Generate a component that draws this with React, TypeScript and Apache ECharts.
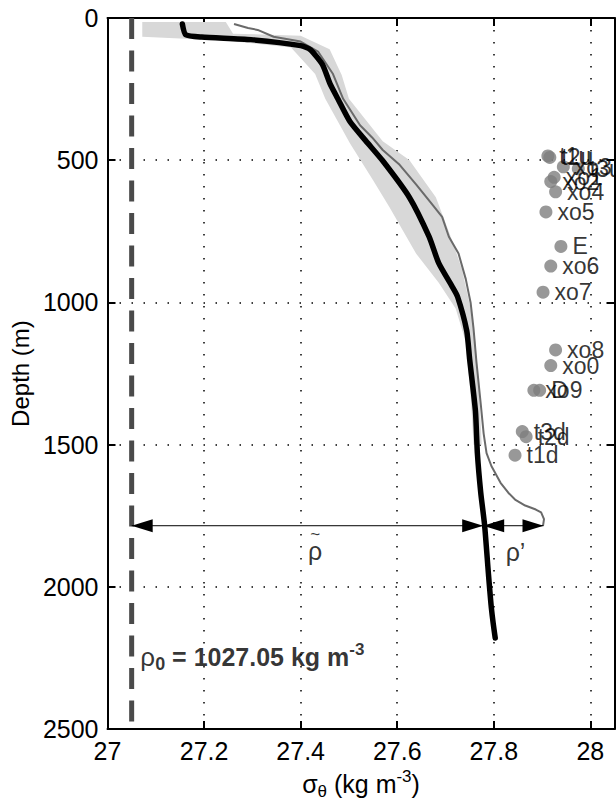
import React, { useEffect, useRef } from "react";
import * as echarts from "echarts";

// ---- axes ----
const xMin = 27;
const xMax = 28.05;
const xStep = 0.2;
const yMin = 0;
const yMax = 2500;
const yStep = 500;

// ---- reference density rho0 (sigma units) ----
const rho0Sigma = 27.05;
const rho0Text = "1027.05";

// ---- mean profile (thick black): [sigma, depth] ----
const meanProfile: [number, number][] = [
  [27.155, 21], [27.162, 59], [27.195, 67], [27.297, 76], [27.4, 97],
  [27.42, 111], [27.445, 163], [27.461, 232], [27.477, 284], [27.502, 364],
  [27.535, 432], [27.57, 502], [27.625, 630], [27.666, 769], [27.686, 862],
  [27.713, 942], [27.725, 980], [27.744, 1100], [27.75, 1200], [27.762, 1382],
  [27.766, 1530], [27.773, 1669], [27.781, 1783], [27.789, 1956], [27.795, 2074],
  [27.803, 2180],
];

// ---- single profile (thin grey): [sigma, depth] ----
const singleProfile: [number, number][] = [
  [27.262, 21], [27.291, 35], [27.311, 42], [27.344, 66], [27.4, 83],
  [27.436, 118], [27.467, 197], [27.488, 284], [27.523, 377], [27.548, 420],
  [27.57, 464], [27.605, 516], [27.639, 585], [27.672, 654], [27.693, 699],
  [27.707, 769], [27.727, 828], [27.742, 918], [27.752, 1001], [27.758, 1091],
  [27.764, 1208], [27.773, 1357], [27.779, 1461], [27.785, 1530], [27.795, 1575],
  [27.814, 1634], [27.83, 1669], [27.844, 1693], [27.865, 1714], [27.887, 1728],
  [27.898, 1738], [27.904, 1762], [27.902, 1785],
];

// ---- envelope (light grey band): left and right edges [sigma, depth] ----
const bandLeft: [number, number][] = [
  [27.072, 14], [27.072, 66], [27.25, 80], [27.38, 104], [27.43, 197],
  [27.451, 284], [27.502, 440], [27.55, 570], [27.584, 665], [27.639, 828],
  [27.686, 931], [27.721, 1021], [27.742, 1139], [27.752, 1323], [27.758, 1500],
];
const bandRight: [number, number][] = [
  [27.245, 14], [27.26, 55], [27.4, 62], [27.46, 110], [27.485, 200],
  [27.5, 284], [27.57, 433], [27.625, 499], [27.68, 630], [27.713, 779],
  [27.734, 883], [27.752, 1021], [27.762, 1139], [27.77, 1323], [27.775, 1500],
];

// ---- arrows at the decomposition depth ----
const arrowDepth = 1785;
const arrowStarts = [27.05, 27.778];
const arrowEnds = [27.778, 27.903];

// ---- arrow labels ----
const arrowLabelNames = ["{t|~}\n{r|ρ}", "{r|ρ’}"];
const arrowLabelSigma = [27.43, 27.845];
const arrowLabelDepth = [1858, 1876];

// ---- station markers ----
const stationNames = [
  "t1u", "t2u", "xo3", "t3u", "xo1", "xo2", "xo4", "xo5", "E", "xo6",
  "xo7", "xo8", "xo0", "xo9", "D", "t3d", "t2d", "t1d",
];
const stationSigma = [
  27.912, 27.916, 27.944, 27.975, 27.925, 27.918, 27.928, 27.908, 27.939, 27.918,
  27.902, 27.928, 27.918, 27.883, 27.895, 27.859, 27.867, 27.844,
];
const stationDepth = [
  485, 490, 523, 530, 560, 575, 611, 682, 803, 872,
  964, 1167, 1222, 1309, 1309, 1454, 1472, 1537,
];

const FONT = "Liberation Sans, Arial, Helvetica, sans-serif";

export default function App() {
  const ref = useRef<HTMLDivElement>(null);

  useEffect(() => {
    if (!ref.current) return;
    const chart = echarts.init(ref.current, null, { renderer: "svg" });

    const axisLineStyle = { color: "#000", width: 2 };
    const tickStyle = { color: "#000", width: 2 };
    const dotted = { color: "#000", width: 1.5, type: [1.5, 10.5] as number[] };

    const option: any = {
      animation: false,
      backgroundColor: "#fff",
      grid: { left: 104, right: 1.5, top: 18, bottom: 67.5, containLabel: false },
      xAxis: [
        {
          type: "value",
          min: xMin,
          max: xMax,
          interval: xStep,
          position: "bottom",
          axisLine: { show: true, onZero: false, lineStyle: axisLineStyle },
          axisTick: { show: true, inside: true, length: 8, lineStyle: tickStyle },
          axisLabel: {
            color: "#000",
            fontFamily: FONT,
            fontSize: 25,
            margin: 9,
            showMaxLabel: false,
            formatter: (v: number) => String(+v.toFixed(2)),
          },
          splitLine: { show: true, lineStyle: dotted },
          name: "{a|σ}{s|θ}{a| (kg m}{p|-3}{a|)}",
          nameLocation: "middle",
          nameGap: 34,
          nameTextStyle: {
            rich: {
              a: { fontSize: 25, fontFamily: FONT, color: "#000", lineHeight: 32 },
              s: { fontSize: 17, fontFamily: FONT, color: "#000", lineHeight: 14, verticalAlign: "bottom" },
              p: { fontSize: 17, fontFamily: FONT, color: "#000", lineHeight: 18, verticalAlign: "top" },
            },
          },
        },
        {
          type: "value",
          min: xMin,
          max: xMax,
          interval: xStep,
          position: "top",
          axisLine: { show: true, onZero: false, lineStyle: axisLineStyle },
          axisTick: { show: true, inside: true, length: 8, lineStyle: tickStyle },
          axisLabel: { show: false },
          splitLine: { show: false },
        },
      ],
      yAxis: [
        {
          type: "value",
          inverse: true,
          min: yMin,
          max: yMax,
          interval: yStep,
          position: "left",
          axisLine: { show: true, onZero: false, lineStyle: axisLineStyle },
          axisTick: { show: true, inside: true, length: 8, lineStyle: tickStyle },
          axisLabel: {
            color: "#000",
            fontFamily: FONT,
            fontSize: 25,
            margin: 9,
            formatter: (v: number) => String(v),
          },
          splitLine: { show: true, lineStyle: dotted },
          name: "Depth (m)",
          nameLocation: "middle",
          nameGap: 64,
          nameRotate: 90,
          nameTextStyle: { color: "#000", fontFamily: FONT, fontSize: 24 },
        },
        {
          type: "value",
          inverse: true,
          min: yMin,
          max: yMax,
          interval: yStep,
          position: "right",
          axisLine: { show: true, onZero: false, lineStyle: axisLineStyle },
          axisTick: { show: true, inside: true, length: 8, lineStyle: tickStyle },
          axisLabel: { show: false },
          splitLine: { show: false },
        },
      ],
      series: [
        {
          name: "envelope",
          type: "custom",
          xAxisIndex: 0,
          yAxisIndex: 0,
          silent: true,
          z: 1,
          data: [[bandLeft[0][0], bandLeft[0][1]]],
          encode: { x: 0, y: 1 },
          renderItem: (_params: any, api: any) => {
            const pts = bandLeft
              .concat(bandRight.slice().reverse())
              .map((p) => api.coord(p));
            return {
              type: "polygon",
              shape: { points: pts },
              style: { fill: "#d8d8d8", stroke: "none" },
            };
          },
        },
        {
          name: "rho0",
          type: "line",
          xAxisIndex: 0,
          yAxisIndex: 0,
          z: 2,
          showSymbol: false,
          silent: true,
          data: [
            [rho0Sigma, yMin],
            [rho0Sigma, yMax],
          ],
          lineStyle: { color: "#4a4a4a", width: 5, type: [21, 11.5] },
        },
        {
          name: "single",
          type: "line",
          xAxisIndex: 0,
          yAxisIndex: 0,
          z: 3,
          showSymbol: false,
          silent: true,
          data: singleProfile,
          lineStyle: { color: "#6a6a6a", width: 2 },
        },
        {
          name: "mean",
          type: "line",
          xAxisIndex: 0,
          yAxisIndex: 0,
          z: 4,
          showSymbol: false,
          silent: true,
          smooth: 0.2,
          data: meanProfile,
          lineStyle: { color: "#000", width: 5.5, cap: "round", join: "round" },
        },
        {
          name: "arrows",
          type: "custom",
          xAxisIndex: 0,
          yAxisIndex: 0,
          z: 5,
          silent: true,
          data: arrowStarts.map((s, i) => [s, arrowEnds[i], arrowDepth]),
          encode: { x: [0, 1], y: 2 },
          renderItem: (_params: any, api: any) => {
            const a = api.coord([api.value(0), api.value(2)]);
            const b = api.coord([api.value(1), api.value(2)]);
            const L = 21;
            const H = 6.5;
            return {
              type: "group",
              children: [
                {
                  type: "line",
                  shape: { x1: a[0], y1: a[1], x2: b[0], y2: b[1] },
                  style: { stroke: "#000", lineWidth: 1 },
                },
                {
                  type: "polygon",
                  shape: { points: [[a[0], a[1]], [a[0] + L, a[1] - H], [a[0] + L, a[1] + H]] },
                  style: { fill: "#000" },
                },
                {
                  type: "polygon",
                  shape: { points: [[b[0], b[1]], [b[0] - L, b[1] - H], [b[0] - L, b[1] + H]] },
                  style: { fill: "#000" },
                },
              ],
            };
          },
        },
        {
          name: "arrowLabels",
          type: "scatter",
          xAxisIndex: 0,
          yAxisIndex: 0,
          z: 6,
          symbolSize: 0,
          silent: true,
          data: arrowLabelNames.map((n, i) => ({
            name: n,
            value: [arrowLabelSigma[i], arrowLabelDepth[i]],
          })),
          label: {
            show: true,
            position: "inside",
            align: "center",
            formatter: "{b}",
            rich: {
              t: { fontSize: 17, fontFamily: FONT, color: "#000", lineHeight: 9, align: "center" },
              r: { fontSize: 25, fontFamily: FONT, color: "#000", lineHeight: 24, align: "center" },
            },
          },
        },
        {
          name: "rho0Label",
          type: "scatter",
          xAxisIndex: 0,
          yAxisIndex: 0,
          z: 6,
          symbolSize: 0,
          silent: true,
          data: [{ name: "rho0", value: [27.068, 2248] }],
          label: {
            show: true,
            position: "right",
            distance: 0,
            formatter: "{r|ρ}{s|0}{b| = " + rho0Text + " kg m}{p|-3}",
            rich: {
              r: { fontSize: 26, fontFamily: FONT, color: "#000", lineHeight: 32 },
              s: { fontSize: 18, fontFamily: FONT, fontWeight: "bold", color: "#000", lineHeight: 16, verticalAlign: "bottom" },
              b: { fontSize: 25, fontFamily: FONT, fontWeight: "bold", color: "#000", lineHeight: 32 },
              p: { fontSize: 17, fontFamily: FONT, fontWeight: "bold", color: "#000", lineHeight: 20, verticalAlign: "top" },
            },
          },
        },
        {
          name: "stations",
          type: "scatter",
          xAxisIndex: 0,
          yAxisIndex: 0,
          z: 7,
          symbol: "circle",
          symbolSize: 13,
          silent: true,
          itemStyle: { color: "#7e7e7e" },
          data: stationNames.map((n, i) => ({
            name: n,
            value: [stationSigma[i], stationDepth[i]],
          })),
          label: {
            show: true,
            position: "right",
            distance: 5,
            formatter: "{b}",
            color: "#000",
            fontFamily: FONT,
            fontSize: 23,
          },
        },
      ],
    };

    chart.setOption(option);
    return () => chart.dispose();
  }, []);

  return (
    <div
      ref={ref}
      style={{ position: "fixed", left: 0, top: 0, width: 616, height: 805, background: "#fff" }}
    />
  );
}
